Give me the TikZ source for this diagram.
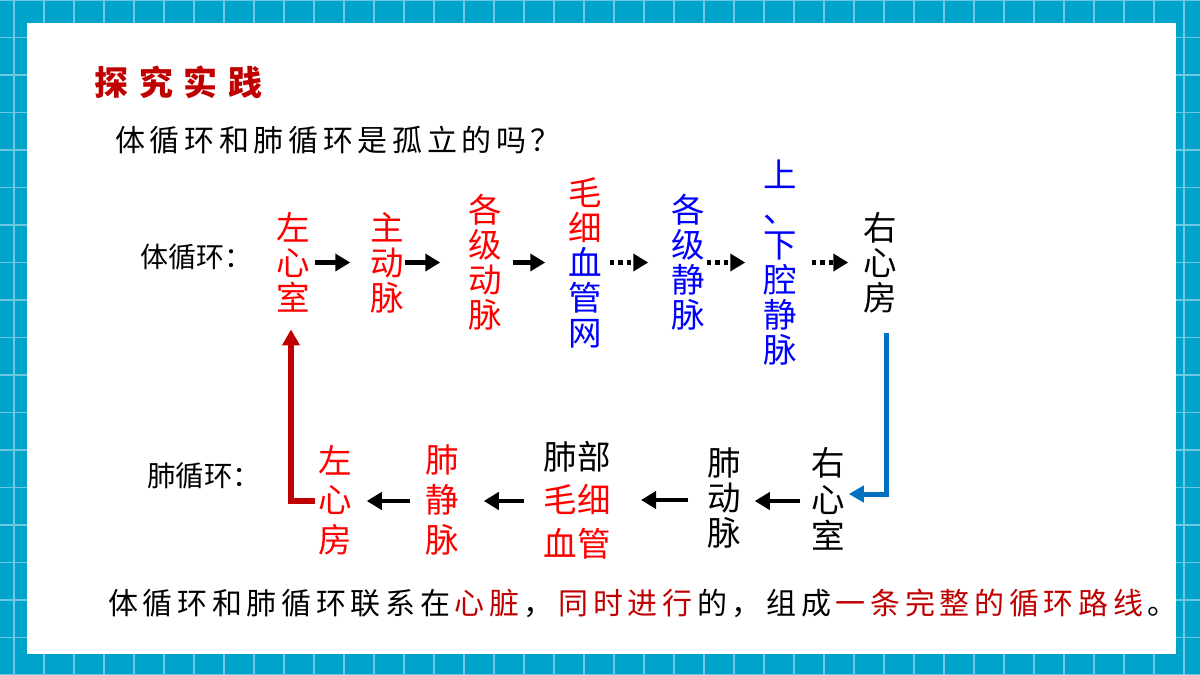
\documentclass[tikz,border=0pt]{standalone}
\usepackage{fontspec}
\setmainfont{Noto Sans CJK SC}
\newfontfamily\cjksp[LetterSpace=15.5]{Noto Sans CJK SC}
\newfontfamily\cjktitle[LetterSpace=32]{Noto Sans CJK SC}
\usetikzlibrary{arrows.meta}
\definecolor{framec}{RGB}{0,163,201}
\definecolor{gridc}{RGB}{110,200,228}
\definecolor{dred}{RGB}{192,0,0}
\definecolor{pred}{RGB}{255,0,0}
\definecolor{pblue}{RGB}{0,0,255}
\definecolor{arrblue}{RGB}{0,112,192}
\newcommand\redpart[1]{\kern4.65pt\textcolor{dred}{#1}\kern4.65pt}
\begin{document}
\begin{tikzpicture}[x=1pt,y=-1pt,
  vnode/.style={inner sep=0pt, outer sep=0pt, align=center, font=\fontsize{33.5}{35}\selectfont},
  arr/.style={line width=4.5pt, -{Triangle[length=15pt,width=17pt]}},
  dotarr/.style={arr, dash pattern=on 4.5pt off 4pt},
  lbl/.style={anchor=west, inner sep=0pt}]
\useasboundingbox (0,0) rectangle (1200,675);
% frame
\fill[framec] (0,0) rectangle (1200,675);
\foreach \x in {14,44,...,1200} \draw[gridc, line width=1.5pt] (\x,0) -- (\x,675);
\foreach \y in {0,37.5,...,676} \draw[gridc, line width=1.5pt] (0,\y) -- (1200,\y);
\fill[white] (27,23) rectangle (1176,654);
% texts
\node[lbl, text=dred, font=\cjktitle\bfseries\fontsize{34}{34}\selectfont] (title) at (94,82) {探究实践};
\node[lbl, font=\cjksp\fontsize{30}{30}\selectfont] (q) at (115,140) {体循环和肺循环是孤立的吗？};
\node[lbl, font=\fontsize{28}{28}\selectfont] (tl) at (140,257) {体循环：};
\node[lbl, font=\fontsize{28.5}{28.5}\selectfont] (pl) at (147,476) {肺循环：};
\node[lbl, font=\cjksp\fontsize{30}{30}\selectfont] (sum) at (108,603) {体循环和肺循环联系在\redpart{心脏}，\redpart{同时进行}的，组成\redpart{一条完整的循环路线}。};
% top row
\node[vnode, text=pred] (lsx) at (293,262.5) {左\\心\\室};
\node[vnode, text=pred] (zdm) at (387,262.5) {主\\动\\脉};
\node[vnode, text=pred] (gjdm) at (485,262.5) {各\\级\\动\\脉};
\node[vnode] (mxg) at (585,262.5) {\textcolor{pred}{毛}\\\textcolor{pred}{细}\\\textcolor{pblue}{血}\\\textcolor{pblue}{管}\\\textcolor{pblue}{网}};
\node[vnode, text=pblue] (gjjm) at (688,262.5) {各\\级\\静\\脉};
\node[vnode, text=pblue] (sxq) at (780,262.5) {上\\、\\下\\腔\\静\\脉};
\node[vnode] (yxf) at (880,262.5) {右\\心\\房};
% bottom row
\node[vnode, font=\fontsize{33.5}{36.5}\selectfont] (yxs) at (828,499) {右\\心\\室};
\node[vnode] (fdm) at (724,498) {肺\\动\\脉};
\node[vnode, font=\fontsize{33.5}{43.5}\selectfont] (fbmx) at (577,500) {肺部\\\textcolor{pred}{毛细}\\\textcolor{pred}{血管}};
\node[vnode, text=pred, font=\fontsize{33.5}{40}\selectfont] (fjm) at (442,500) {肺\\静\\脉};
\node[vnode, text=pred, font=\fontsize{33.5}{39.5}\selectfont] (lxf) at (335,500) {左\\心\\房};
% top arrows
\draw[arr, shorten <=5pt, shorten >=20pt] (lsx.east) -- (lsx.east -| zdm.west);
\draw[arr, shorten <=1pt, shorten >=28pt] (zdm.east) -- (zdm.east -| gjdm.west);
\draw[arr, shorten <=11pt, shorten >=23pt] (gjdm.east) -- (gjdm.east -| mxg.west);
\draw[dotarr, shorten <=8pt, shorten >=23pt] (mxg.east) -- (mxg.east -| gjjm.west);
\draw[dotarr, shorten <=2pt, shorten >=18pt] (gjjm.east) -- (gjjm.east -| sxq.west);
\draw[dotarr, shorten <=15pt, shorten >=15pt] (sxq.east) -- (sxq.east -| yxf.west);
% bottom arrows
\draw[arr, shorten <=11pt, shorten >=14pt] ([yshift=-2pt]yxs.west) -- ([yshift=-2pt]yxs.west -| fdm.east);
\draw[arr, shorten <=19pt, shorten >=30.5pt] ([yshift=-2pt]fdm.west) -- ([yshift=-2pt]fdm.west -| fbmx.east);
\draw[arr, shorten <=19.5pt, shorten >=25pt] ([yshift=-1pt]fbmx.west) -- ([yshift=-1pt]fbmx.west -| fjm.east);
\draw[arr, shorten <=15pt, shorten >=15pt] ([yshift=-1pt]fjm.west) -- ([yshift=-1pt]fjm.west -| lxf.east);
% connectors
\draw[line width=5.5pt, dred, -{Triangle[length=16pt,width=17pt]}] ([xshift=-3pt,yshift=-1pt]lxf.west) -| ([xshift=-2pt,yshift=-17pt]lsx.south);
\draw[line width=5pt, arrblue, -{Triangle[length=15pt,width=16pt]}] ([xshift=6pt,yshift=-20pt]yxf.south) |- ([xshift=4pt,yshift=5pt]yxs.east);
\end{tikzpicture}
\end{document}
